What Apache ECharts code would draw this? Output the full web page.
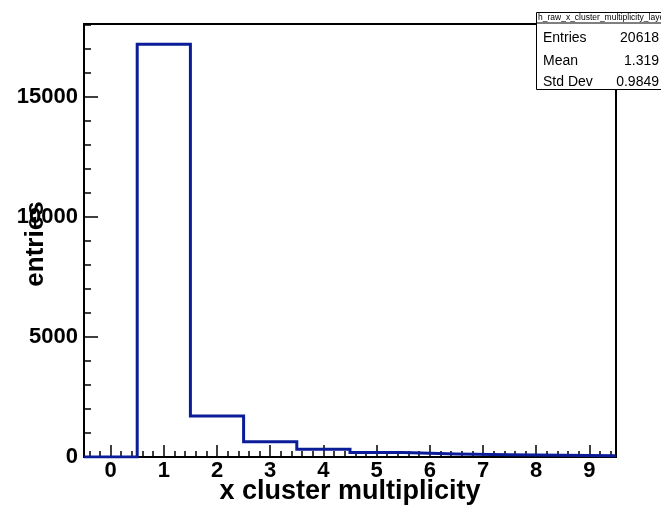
<!DOCTYPE html>
<html>
<head>
<meta charset="utf-8">
<script src="https://cdn.jsdelivr.net/npm/echarts@6/dist/echarts.min.js"></script>
<style>
html,body{margin:0;padding:0;background:#fff;}
#chart{width:661px;height:508px;}
</style>
</head>
<body>
<div id="chart"></div>
<script>
// ---- data ----
const binCenters = [0, 1, 2, 3, 4, 5, 6, 7, 8, 9];
const binCounts  = [0, 17200, 1710, 640, 320, 190, 130, 95, 70, 50];
const binWidth = 1;
const xTickLabels = [0, 1, 2, 3, 4, 5, 6, 7, 8, 9];
const yTickLabels = [0, 5000, 10000, 15000];
const xRange = [-0.5, 9.5];
const yRange = [0, 18040];
const xTitle = 'x cluster multiplicity';
const yTitle = 'entries';
const statsTitle = 'h_raw_x_cluster_multiplicity_layer0';
const statsNames = ['Entries', 'Mean', 'Std Dev'];
const statsValues = ['20618', '1.319', '0.9849'];

// minor tick positions
const xMinor = [];
for (let k = -2; k <= 47; k++) xMinor.push(+(k * 0.2).toFixed(2));
const yMinor = [];
for (let v = 0; v <= 18000; v += 1000) yMinor.push(v);

// step outline of the histogram
const stepPts = [];
binCenters.forEach((c, i) => {
  stepPts.push([c - binWidth / 2, binCounts[i]]);
  stepPts.push([c + binWidth / 2, binCounts[i]]);
});

const font = '"Liberation Sans", Arial, Helvetica, sans-serif';
const chart = echarts.init(document.getElementById('chart'), null, {renderer: 'canvas'});

const statsRowsY = [38, 61, 82];
const graphics = [
  {type: 'rect', left: 536, top: 12, shape: {width: 140, height: 77},
   style: {fill: '#fff', stroke: '#000', lineWidth: 1}, z: 100},
  {type: 'line', shape: {x1: 536, y1: 23, x2: 661, y2: 23},
   style: {stroke: '#000', lineWidth: 1}, z: 101},
  {type: 'text', x: 538, y: 17.5, z: 102,
   style: {text: statsTitle, font: '8.5px ' + font, fill: '#000', verticalAlign: 'middle', align: 'left'}},
  {type: 'text', x: 36, y: 244, rotation: Math.PI / 2, z: 102,
   style: {text: yTitle, font: 'bold 26px ' + font, fill: '#000', align: 'center', verticalAlign: 'middle'}},
  {type: 'text', x: 350, y: 492, z: 102,
   style: {text: xTitle, font: 'bold 27px ' + font, fill: '#000', align: 'center', verticalAlign: 'middle'}}
];
statsNames.forEach((n, i) => {
  graphics.push({type: 'text', x: 543, y: statsRowsY[i], z: 102,
    style: {text: n, font: '14px ' + font, fill: '#000', align: 'left', verticalAlign: 'middle'}});
  graphics.push({type: 'text', x: 659, y: statsRowsY[i], z: 102,
    style: {text: statsValues[i], font: '14px ' + font, fill: '#000', align: 'right', verticalAlign: 'middle'}});
});

chart.setOption({
  animation: false,
  backgroundColor: '#fff',
  grid: {left: 84, right: 45, top: 24, bottom: 51, show: true, borderColor: '#000', borderWidth: 2,
         backgroundColor: 'transparent', containLabel: false, outerBoundsMode: 'none'},
  xAxis: [
    {type: 'value', min: xRange[0], max: xRange[1], offset: 0,
     axisLine: {show: true, onZero: false, lineStyle: {color: '#000', width: 2}},
     axisTick: {show: true, inside: true, length: 12, customValues: xTickLabels, lineStyle: {color: '#000', width: 1.5}},
     axisLabel: {show: true, customValues: xTickLabels, margin: 3, color: '#000', fontFamily: font, fontWeight: 'bold', fontSize: 22,
                 formatter: v => String(v)},
     splitLine: {show: false}},
    {type: 'value', min: xRange[0], max: xRange[1], position: 'bottom', offset: 0,
     axisLine: {show: false, onZero: false},
     axisTick: {show: true, inside: true, length: 6, customValues: xMinor, lineStyle: {color: '#000', width: 1.5}},
     axisLabel: {show: false}, splitLine: {show: false}}
  ],
  yAxis: [
    {type: 'value', min: yRange[0], max: yRange[1], offset: 0,
     axisLine: {show: true, onZero: false, lineStyle: {color: '#000', width: 2}},
     axisTick: {show: true, inside: true, length: 14, customValues: yTickLabels, lineStyle: {color: '#000', width: 1.5}},
     axisLabel: {show: true, customValues: yTickLabels, margin: 6, color: '#000', fontFamily: font, fontWeight: 'bold', fontSize: 22,
                 formatter: v => String(v)},
     splitLine: {show: false}},
    {type: 'value', min: yRange[0], max: yRange[1], position: 'left', offset: 0,
     axisLine: {show: false, onZero: false},
     axisTick: {show: true, inside: true, length: 7, customValues: yMinor, lineStyle: {color: '#000', width: 1.5}},
     axisLabel: {show: false}, splitLine: {show: false}}
  ],
  series: [{
    type: 'line', xAxisIndex: 0, yAxisIndex: 0, data: stepPts,
    showSymbol: false, symbol: 'none', z: 5,
    lineStyle: {color: '#0b1c99', width: 3, join: 'miter'}
  }],
  graphic: graphics
});
</script>
</body>
</html>
